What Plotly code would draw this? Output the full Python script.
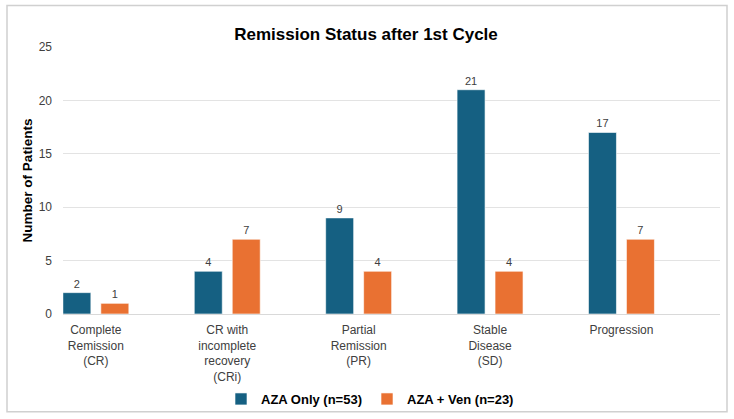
import plotly.graph_objects as go

categories = ["Complete<br>Remission<br>(CR)", "CR with<br>incomplete<br>recovery<br>(CRi)",
              "Partial<br>Remission<br>(PR)", "Stable<br>Disease<br>(SD)", "Progression"]
aza_only = [2, 4, 9, 21, 17]
aza_ven = [1, 7, 4, 4, 7]
series_names = ["AZA Only (n=53)", "AZA + Ven (n=23)"]
colors = ["#156082", "#E97132"]
y_ticks = [0, 5, 10, 15, 20, 25]

W, H = 734, 419
L, R, T, B = 63, 14, 46.5, 105
pw = W - L - R
ph = H - T - B

def px_x(p):
    return (p - L) / pw

def px_y(p):
    return (H - B - p) / ph

fig = go.Figure()
for name, vals, col in zip(series_names, [aza_only, aza_ven], colors):
    fig.add_trace(go.Bar(
        x=categories, y=vals, name=name,
        marker=dict(color=col, line=dict(color="rgba(255,255,255,0.6)", width=1)),
        text=[str(v) for v in vals], textposition="outside",
        textfont=dict(size=11, color="#404040"),
        cliponaxis=False,
    ))

fig.update_layout(
    width=W, height=H,
    margin=dict(l=L, r=R, t=T, b=B, autoexpand=False),
    paper_bgcolor="white", plot_bgcolor="white",
    barmode="group", bargap=0.422, bargroupgap=0.263,
    font=dict(family="Arial, Liberation Sans, sans-serif", color="#404040"),
    title=dict(text="<b>Remission Status after 1st Cycle</b>", x=366 / W, xanchor="center",
               y=1 - 34 / H, yanchor="middle", yref="container",
               font=dict(size=17, color="#000000")),
    showlegend=True,
    legend=dict(orientation="h", xref="container", x=370 / W, xanchor="center",
                yref="container", y=1 - 399 / H, yanchor="middle",
                font=dict(size=13, color="#000000", weight="bold"), itemwidth=30,
                bgcolor="rgba(0,0,0,0)", traceorder="normal"),
    xaxis=dict(range=[-0.25, 4.75], showgrid=False, showline=False, ticks="",
               tickfont=dict(size=12, color="#404040"), ticklabelstandoff=7, fixedrange=True),
    yaxis=dict(range=[0, 25], tickvals=y_ticks, showgrid=True, gridcolor="#E3E3E3", gridwidth=1,
               zeroline=True, zerolinecolor="#D9D9D9", zerolinewidth=1, showline=False,
               tickfont=dict(size=12, color="#404040"), ticklabelstandoff=10,
               title=dict(text="<b>Number of Patients</b>", font=dict(size=13.5, color="#000000"),
                          standoff=2)),
    shapes=[dict(type="rect", xref="paper", yref="paper",
                 x0=px_x(7), x1=px_x(727), y0=px_y(412), y1=px_y(5),
                 line=dict(color="#D0D0D0", width=1.5), fillcolor="rgba(0,0,0,0)", layer="below")],
)

fig.write_html("out.html")
